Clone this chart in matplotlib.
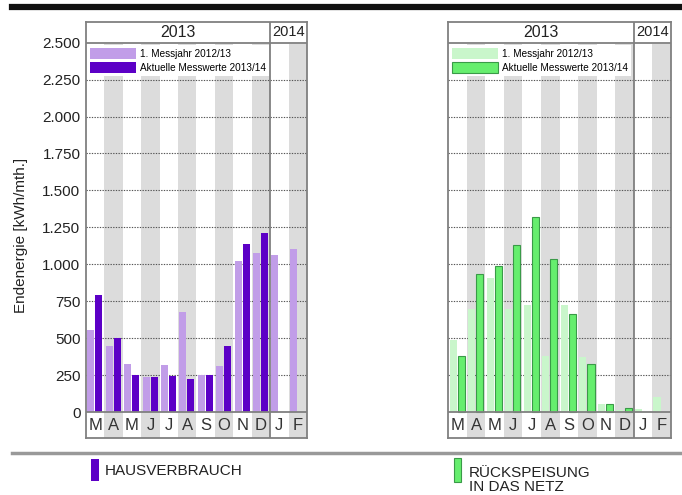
import matplotlib
matplotlib.use("Agg")
import matplotlib.pyplot as plt
from matplotlib.patches import Rectangle

plt.rcParams['font.family'] = ['Liberation Sans', 'DejaVu Sans']

months = ["M", "A", "M", "J", "J", "A", "S", "O", "N", "D", "J", "F"]
yticks = [0, 250, 500, 750, 1000, 1250, 1500, 1750, 2000, 2250, 2500]
ytick_labels = ["0", "250", "500", "750", "1.000", "1.250", "1.500", "1.750",
                "2.000", "2.250", "2.500"]

# Hausverbrauch
haus_prev = [558, 446, 324, 240, 315, 680, 250, 311, 1020, 1079, 1063, 1106]
haus_curr = [790, 504, 250, 240, 243, 221, 250, 446, 1137, 1214, None, None]
# Rückspeisung
rueck_prev = [486, 700, 910, 696, 723, 378, 723, 369, 52, 14, 18, 99]
rueck_curr = [378, 932, 991, 1133, 1322, 1036, 662, 327, 56, 25, None, None]

W, H = 682, 495
fig = plt.figure(figsize=(W / 100, H / 100), dpi=100)

STRIPE = "#dcdcdc"
BORDER = "#808080"
YMIN, YMAX = -176, 2640


def panel(x0, x1, prev, curr, c_prev, c_curr, edge_curr, show_y):
    top, bot = 22, 438
    ax = fig.add_axes([x0 / W, 1 - bot / H, (x1 - x0) / W, (bot - top) / H])
    ax.set_xlim(0, 12)
    ax.set_ylim(YMIN, YMAX)
    # stripes
    for i in range(1, 12, 2):
        ax.add_patch(Rectangle((i, YMIN), 1, 2490 - YMIN, facecolor=STRIPE,
                               edgecolor="none", zorder=0))
    # grid
    for y in yticks[1:-1]:
        ax.axhline(y, color="#555555", lw=0.8, ls=(0, (1.2, 1.2)), zorder=1)
    # bars
    xs = list(range(12))
    ax.bar([x + 0.26 for x in xs], prev, width=0.38, color=c_prev,
           edgecolor="none", zorder=2)
    cx = [x + 0.70 for x, v in zip(xs, curr) if v is not None]
    cv = [v for v in curr if v is not None]
    ax.bar(cx, cv, width=0.38, color=c_curr,
           edgecolor=edge_curr if edge_curr else "none",
           linewidth=0.8 if edge_curr else 0, zorder=3)
    # frame lines
    ax.axhline(0, color=BORDER, lw=1.3, zorder=4)
    ax.axhline(2500, color=BORDER, lw=1.3, zorder=4)
    ax.axvline(10, color=BORDER, lw=1.3, zorder=4)
    for s in ax.spines.values():
        s.set_color(BORDER)
        s.set_linewidth(1.3)
    # header
    ax.text(5, 2570, "2013", ha="center", va="center", fontsize=11.5,
            color="#222222", zorder=5)
    ax.text(11, 2570, "2014", ha="center", va="center", fontsize=10.5,
            color="#222222", zorder=5)
    # month labels
    for i, m in enumerate(months):
        ax.text(i + 0.5, -88, m, ha="center", va="center", fontsize=12,
                color="#333333", zorder=5)
    ax.set_xticks([])
    if show_y:
        ax.set_yticks(yticks)
        ax.set_yticklabels(ytick_labels, fontsize=11, color="#222222")
        ax.tick_params(axis="y", length=0, pad=4)
    else:
        ax.set_yticks([])
    # legend
    leg = ax.legend(
        handles=[Rectangle((0, 0), 1, 1, facecolor=c_prev, edgecolor="none"),
                 Rectangle((0, 0), 1, 1, facecolor=c_curr,
                           edgecolor=edge_curr if edge_curr else "none",
                           linewidth=0.8)],
        labels=["1. Messjahr 2012/13", "Aktuelle Messwerte 2013/14"],
        loc="upper left", bbox_to_anchor=(0.0, (2490 - YMIN) / (YMAX - YMIN)),
        fontsize=7.2, frameon=True, fancybox=False, framealpha=1,
        edgecolor="none", facecolor="white", borderpad=0.3,
        handlelength=4.6, handleheight=1.3, handletextpad=0.4,
        labelspacing=0.3, borderaxespad=0.1)
    leg.set_zorder(6)
    return ax


axL = panel(86, 307, haus_prev, haus_curr, "#c19de8", "#5c00c6", None, True)
axR = panel(448.3, 670.7, rueck_prev, rueck_curr, "#c9f6cb", "#66ee6e",
            "#3a9a48", False)

fig.text(21 / W, 1 - 235 / H, "Endenergie [kWh/mth.]", rotation=90,
         ha="center", va="center", fontsize=11, color="#222222")

# top black rule and gray separator
fig.add_artist(plt.Line2D([12 / W, 1], [1 - 6.5 / H, 1 - 6.5 / H],
                          color="#111111", lw=4.5))
fig.add_artist(plt.Line2D([12 / W, 1], [1 - 453 / H, 1 - 453 / H],
                          color="#999999", lw=2.5))

# bottom legend
fig.add_artist(Rectangle((91 / W, 1 - 481 / H), 8 / W, 22 / H,
                         facecolor="#5c00c6", edgecolor="none",
                         transform=fig.transFigure))
fig.text(105 / W, 1 - 471 / H, "HAUSVERBRAUCH", ha="left", va="center",
         fontsize=11, color="#222222")
fig.add_artist(Rectangle((454 / W, 1 - 482 / H), 7 / W, 24 / H,
                         facecolor="#66ee6e", edgecolor="#3a9a48", lw=0.8,
                         transform=fig.transFigure))
fig.text(469 / W, 1 - 480 / H, "RÜCKSPEISUNG\nIN DAS NETZ", ha="left",
         va="center", fontsize=11, color="#222222", linespacing=0.95)

fig.savefig("out.png", dpi=100)
